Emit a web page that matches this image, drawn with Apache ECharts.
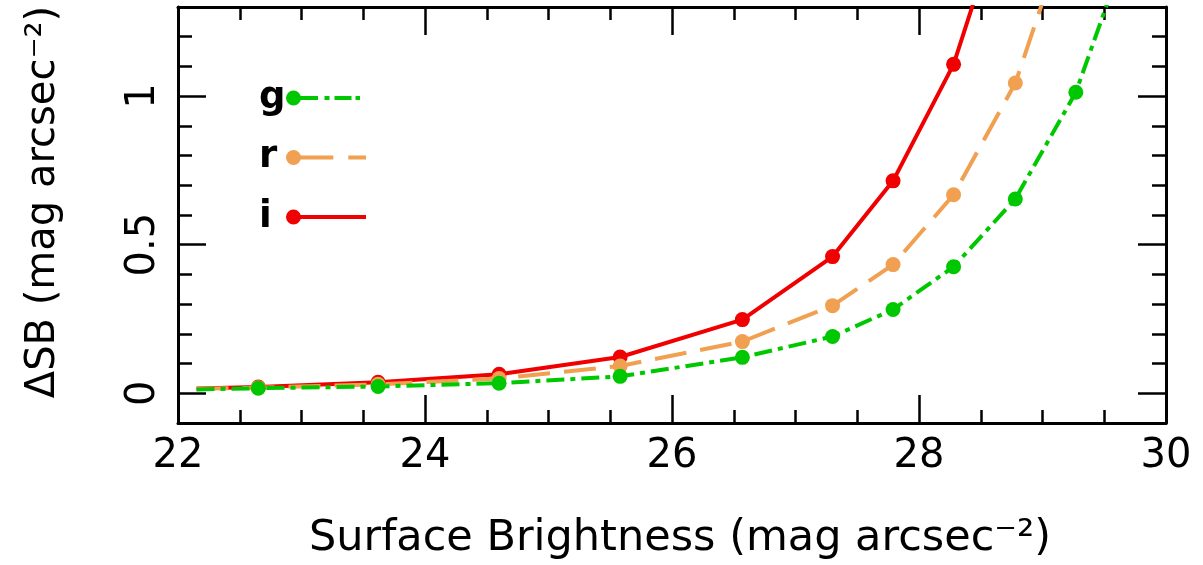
<!DOCTYPE html>
<html>
<head>
<meta charset="utf-8">
<script src="https://cdn.jsdelivr.net/npm/echarts@6/dist/echarts.min.js"></script>
<style>
html,body{margin:0;padding:0;background:#fff;}
#chart{width:1203px;height:565px;}
</style>
</head>
<body>
<div id="chart"></div>
<script>
// ---- data ----
const sbValues = [22.15, 22.65, 23.62, 24.60, 25.58, 26.57, 27.30, 27.79, 28.28, 28.78, 29.27, 29.77];
const dsbG = [0.013, 0.017, 0.023, 0.034, 0.057, 0.121, 0.191, 0.282, 0.426, 0.654, 1.013, 1.60];
const dsbR = [0.015, 0.019, 0.030, 0.050, 0.092, 0.174, 0.295, 0.433, 0.668, 1.044, 1.65, null];
const dsbI = [0.016, 0.021, 0.037, 0.064, 0.122, 0.248, 0.460, 0.715, 1.107, 1.75, null, null];
const bandNames = ['g', 'r', 'i'];
const yMajorLabels = ['0', '0.5', '1'];
const yTickCats = ['-0.1','0','0.1','0.2','0.3','0.4','0.5','0.6','0.7','0.8','0.9','1','1.1','1.2','1.3'];

const COL = { g: '#00c800', r: '#f0a050', i: '#f00000' };
const FONT = 'DejaVu Sans';

function pairs(ys) {
  const out = [];
  ys.forEach((y, k) => {
    if (y === null) return;
    if (k === 0) out.push({ value: [sbValues[k], y], symbol: 'none' });
    else out.push([sbValues[k], y]);
  });
  return out;
}

const circ = 'M0 7.5 A7.5 7.5 0 1 1 15 7.5 A7.5 7.5 0 1 1 0 7.5 Z ';
function rect(x1, x2) { return 'M' + x1 + ' 5.5 H' + x2 + ' V9.5 H' + x1 + ' Z '; }
const icons = {
  g: 'path://' + circ + rect(14.5, 32) + rect(38.5, 43.5) + rect(48.5, 65.5) + rect(69.5, 74) + 'M80 7.5',
  r: 'path://' + circ + rect(14.5, 47.3) + rect(62.3, 80),
  i: 'path://' + circ + rect(14.5, 80)
};

const baseLine = { show: true, onZero: false, lineStyle: { color: '#000', width: 3 } };

function xAx(pos, withLabels) {
  return {
    type: 'value', position: pos, min: 22, max: 30, interval: 2,
    axisLine: baseLine,
    axisTick: { show: true, inside: true, length: 28, lineStyle: { color: '#000', width: 2.5 } },
    minorTick: { show: true, splitNumber: 4, length: 13, lineStyle: { color: '#000', width: 2.5 } },
    splitLine: { show: false }, minorSplitLine: { show: false },
    axisLabel: withLabels ? { show: true, margin: 14, fontFamily: FONT, fontSize: 40, color: '#000' } : { show: false },
    name: withLabels ? 'Surface Brightness (mag arcsec\u207B\u00B2)' : '',
    nameLocation: 'middle', nameGap: 94,
    nameTextStyle: { fontFamily: FONT, fontSize: 43, color: '#000', padding: [0, 0, 0, 16] }
  };
}
function yVal(pos, withLabels) {
  return {
    type: 'value', position: pos, min: -0.1, max: 1.3, interval: 0.1,
    axisLine: baseLine,
    axisTick: { show: true, inside: true, length: 14, lineStyle: { color: '#000', width: 2.5 } },
    splitLine: { show: false },
    axisLabel: withLabels ? {
      show: true, rotate: 90, margin: 14, fontFamily: FONT, fontSize: 40, color: '#000',
      formatter: function (v) {
        for (const s of yMajorLabels) { if (Math.abs(v - parseFloat(s)) < 1e-6) return s; }
        return '';
      }
    } : { show: false },
    name: withLabels ? '\u0394SB (mag arcsec\u207B\u00B2)' : '',
    nameLocation: 'middle', nameGap: 114, nameRotate: 90,
    nameTextStyle: { fontFamily: FONT, fontSize: 40, color: '#000', padding: [0, 0, 0, 26] }
  };
}
function yMajor(pos) {
  return {
    type: 'category', position: pos, data: yTickCats, boundaryGap: false,
    axisLine: { show: false },
    axisTick: {
      show: true, inside: true, length: 28, lineStyle: { color: '#000', width: 2.5 },
      interval: function (idx, val) { return yMajorLabels.indexOf(val) >= 0; }
    },
    axisLabel: { show: false }, splitLine: { show: false }
  };
}

function series(name, ys, dash) {
  return {
    name: name, type: 'line', xAxisIndex: 0, yAxisIndex: 0,
    data: pairs(ys), clip: true,
    symbol: 'circle', symbolSize: 15,
    itemStyle: { color: COL[name], borderWidth: 0 },
    lineStyle: { color: COL[name], width: 4, type: dash, cap: 'butt' },
    emphasis: { disabled: true }
  };
}

const chart = echarts.init(document.getElementById('chart'), null, { renderer: 'canvas' });
chart.setOption({
  animation: false,
  backgroundColor: '#fff',
  grid: { left: 178, right: 37, top: 7, bottom: 140, containLabel: false },
  xAxis: [xAx('bottom', true), xAx('top', false)],
  yAxis: [yVal('left', true), yVal('right', false), yMajor('left'), yMajor('right')],
  legend: {
    orient: 'vertical', align: 'right', left: 259, top: 79.5, padding: 0,
    itemWidth: 80, itemHeight: 15, itemGap: 22.5, selectedMode: false,
    itemStyle: { borderWidth: 0 },
    data: bandNames.map(n => ({ name: n, icon: icons[n] })),
    formatter: function (n) { return '{t|' + n + '}'; },
    textStyle: {
      rich: { t: { width: 22, align: 'left', fontFamily: FONT, fontWeight: 'bold', fontSize: 37, color: '#000' } }
    }
  },
  series: [
    series('i', dsbI, 'solid'),
    series('r', dsbR, [32, 14]),
    series('g', dsbG, [18, 6, 5, 6])
  ]
});
</script>
</body>
</html>
